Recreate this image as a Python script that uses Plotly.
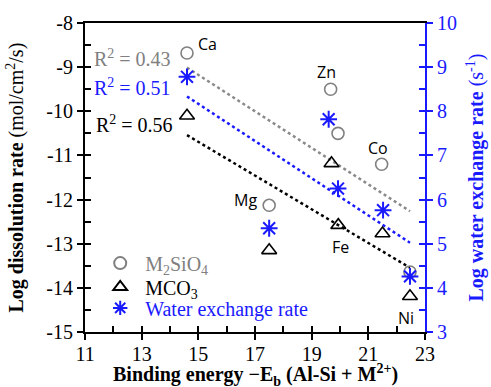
import numpy as np
import plotly.graph_objects as go

# ---- data ----
elements = ["Ca", "Zn", "Co", "Mg", "Fe", "Ni"]
# M2SiO4 (log dissolution rate)
sil_x = [14.6, 19.67, 19.93, 21.47, 17.5, 22.47]
sil_y = [-8.68, -9.5, -10.5, -11.2, -12.13, -13.64]
# MCO3
carb_x = [14.6, 19.7, 19.94, 21.5, 17.5, 22.47]
carb_y = [-10.1, -11.18, -12.58, -12.77, -13.15, -14.19]
# Water exchange rate (right axis, log s^-1)
wat_x = [14.6, 19.6, 19.93, 21.52, 17.5, 22.47]
wat_y = [8.78, 7.82, 6.25, 5.76, 5.35, 4.26]

x_ticks = [11, 13, 15, 17, 19, 21, 23]
y_left_ticks = [-15, -14, -13, -12, -11, -10, -9, -8]
y_left_labels = ["-15", "-14", "-13", "-12", "-11", "-10", "-9", "-8"]
y_right_ticks = [3, 4, 5, 6, 7, 8, 9, 10]

r2_labels = ["R<sup>2</sup> = 0.43", "R<sup>2</sup> = 0.51", "R<sup>2</sup> = 0.56"]
label_x = [15.31, 19.54, 21.35, 16.68, 20.0, 22.32]
label_y = [-8.48, -9.11, -10.83, -12.01, -13.08, -14.69]
r2_x = [14.11, 14.11, 14.18]
r2_y = [-8.8, -9.45, -10.29]

GRAY = "#808080"
BLUE = "#1a1aff"
BLACK = "#000000"
OFFSET = 18  # right axis = left axis + 18

SERIF = "Liberation Serif"

fig = go.Figure()

def fit_line(xs, ys):
    k, b = np.polyfit(xs, ys, 1)
    xx = np.array([min(xs), max(xs)])
    return xx, k * xx + b

# regression lines
gx, gy = fit_line(sil_x, sil_y)
fig.add_trace(go.Scatter(x=gx, y=gy, mode="lines", line=dict(color="#8a8a8a", dash="dot", width=2.5),
                         showlegend=False, hoverinfo="skip"))
wy_left = [v - OFFSET for v in wat_y]
bx, by = fit_line(wat_x, wy_left)
fig.add_trace(go.Scatter(x=bx, y=by, mode="lines", line=dict(color=BLUE, dash="dot", width=2.5),
                         showlegend=False, hoverinfo="skip"))
kx, ky = fit_line(carb_x, carb_y)
fig.add_trace(go.Scatter(x=kx, y=ky, mode="lines", line=dict(color=BLACK, dash="dot", width=2.5),
                         showlegend=False, hoverinfo="skip"))

# markers
fig.add_trace(go.Scatter(x=sil_x, y=sil_y, mode="markers", legend="legend",
                         name=f"<span style='color:{GRAY}'>M<sub>2</sub>SiO<sub>4</sub></span>",
                         marker=dict(symbol="circle-open", size=12, color=GRAY, line=dict(width=1.6, color=GRAY))))
fig.add_trace(go.Scatter(x=carb_x, y=carb_y, mode="markers", legend="legend2",
                         name="MCO<sub>3</sub>",
                         marker=dict(symbol="triangle-up-open", size=13, color=BLACK, line=dict(width=1.6, color=BLACK))))
fig.add_trace(go.Scatter(x=wat_x, y=wat_y, mode="markers", yaxis="y2", legend="legend3",
                         name=f"<span style='color:{BLUE}'>Water exchange rate</span>",
                         marker=dict(symbol="asterisk-open", size=14, color=BLUE, line=dict(width=2, color=BLUE))))

# dummy traces for inside-tick overlay axes
fig.add_trace(go.Scatter(x=[None], y=[None], xaxis="x3", yaxis="y3", showlegend=False, hoverinfo="skip"))
fig.add_trace(go.Scatter(x=[None], y=[None], xaxis="x3", yaxis="y4", showlegend=False, hoverinfo="skip"))

ann = []
for t, x, y in zip(elements, label_x, label_y):
    ann.append(dict(x=x, y=y, xref="x", yref="y", text=t, showarrow=False,
                    font=dict(family="Open Sans", size=16, color=BLACK)))
for t, x, y, c in zip(r2_labels, r2_x, r2_y, [GRAY, BLUE, BLACK]):
    ann.append(dict(x=x, y=y, xref="x", yref="y", text=t, showarrow=False, xanchor="right",
                    font=dict(family=SERIF, size=20, color=c)))
ann.append(dict(x=0, y=0.5, xref="paper", yref="paper", xshift=-70, xanchor="center", yanchor="middle",
                textangle=-90, showarrow=False,
                text="<b>Log dissolution rate</b> (mol/cm<sup>2</sup>/s)",
                font=dict(family=SERIF, size=20, color=BLACK)))
ann.append(dict(x=1, y=0.5, xref="paper", yref="paper", xshift=50, xanchor="center", yanchor="middle",
                textangle=-90, showarrow=False,
                text="<b>Log water exchange rate</b> (s<sup>-1</sup>)",
                font=dict(family=SERIF, size=20, color=BLUE)))
ann.append(dict(x=0.5, y=0, xref="paper", yref="paper", yshift=-43, xanchor="center", yanchor="middle",
                showarrow=False,
                text="<b>Binding energy −E<sub>b</sub> (Al-Si + M<sup>2+</sup>)</b>",
                font=dict(family=SERIF, size=20, color=BLACK)))

tickfont = dict(family=SERIF, size=20, color=BLACK)
common = dict(showgrid=False, zeroline=False)
legfont = dict(family=SERIF, size=20, color=BLACK)

def leg(y):
    return dict(x=0.03, y=y, xanchor="left", yanchor="middle", bgcolor="rgba(0,0,0,0)",
                font=legfont, itemwidth=40, itemsizing="constant")

fig.update_layout(
    width=491, height=387,
    margin=dict(l=85, r=66, t=23, b=55),
    plot_bgcolor="white", paper_bgcolor="white",
    annotations=ann,
    showlegend=True,
    legend=leg(0.223),
    legend2=leg(0.146),
    legend3=leg(0.078),
    xaxis=dict(range=[11, 23], tickvals=x_ticks, ticks="outside", ticklen=6, tickwidth=2, tickcolor=BLACK,
               ticklabelstandoff=-3,
               showline=True, linewidth=2, linecolor=BLACK, mirror=True, tickfont=tickfont, **common),
    yaxis=dict(range=[-15, -8], tickvals=y_left_ticks, ticktext=y_left_labels, ticks="outside", ticklen=6,
               tickwidth=2, tickcolor=BLACK,
               showline=True, linewidth=2, linecolor=BLACK, tickfont=tickfont, **common),
    yaxis2=dict(range=[3, 10], tickvals=y_right_ticks, ticks="outside", ticklen=6, tickwidth=2, tickcolor=BLUE,
                overlaying="y", side="right", anchor="x",
                showline=True, linewidth=2, linecolor=BLUE,
                tickfont=dict(family=SERIF, size=20, color=BLUE), **common),
    xaxis3=dict(range=[11, 23], tick0=11, dtick=1, ticks="inside", ticklen=6, tickwidth=2, tickcolor=BLACK,
                overlaying="x", anchor="y", showticklabels=False, showline=False, **common),
    yaxis3=dict(range=[-15, -8], tick0=-15, dtick=0.5, ticks="inside", ticklen=6, tickwidth=2, tickcolor=BLACK,
                overlaying="y", anchor="x", side="left", showticklabels=False, showline=False, **common),
    yaxis4=dict(range=[3, 10], tick0=3, dtick=0.5, ticks="inside", ticklen=6, tickwidth=2, tickcolor=BLUE,
                overlaying="y", anchor="x", side="right", showticklabels=False, showline=False, **common),
)

fig.write_html("out.html")
